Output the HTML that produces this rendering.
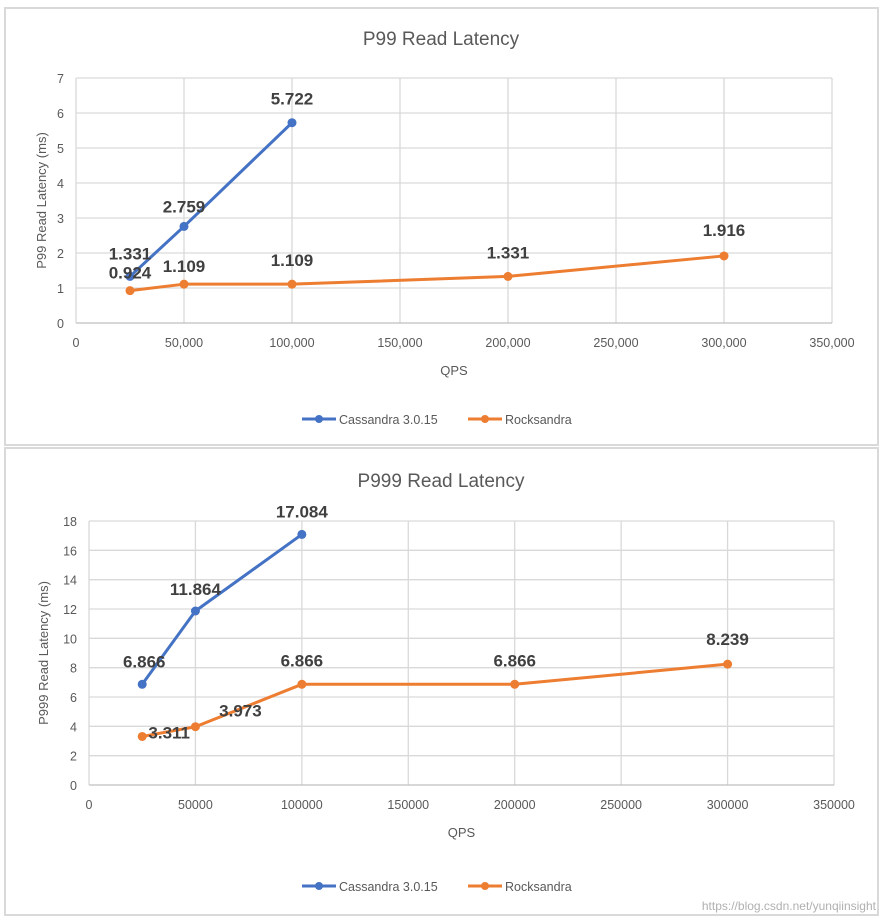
<!DOCTYPE html>
<html><head><meta charset="utf-8"><style>
body{margin:0;background:#fff;width:883px;height:923px;overflow:hidden;font-family:"Liberation Sans",sans-serif}
svg{position:absolute;left:0;top:0}
</style></head><body>
<svg id="s" width="883" height="923"></svg>
<script>
const qps1Cass=[25000,50000,100000];
const p99Cass=[1.331,2.759,5.722];
const qpsRocks=[25000,50000,100000,200000,300000];
const p99Rocks=[0.924,1.109,1.109,1.331,1.916];
const p999Cass=[6.866,11.864,17.084];
const p999Rocks=[3.311,3.973,6.866,6.866,8.239];
const xTicks1=["0","50,000","100,000","150,000","200,000","250,000","300,000","350,000"];
const xTicks2=["0","50000","100000","150000","200000","250000","300000","350000"];
const yTicks1=[0,1,2,3,4,5,6,7];
const yTicks2=[0,2,4,6,8,10,12,14,16,18];
const NS="http://www.w3.org/2000/svg",svg=document.getElementById('s');
function el(t,a,txt,p){const e=document.createElementNS(NS,t);for(const k in a)e.setAttribute(k,a[k]);if(txt!=null)e.textContent=txt;(p||svg).appendChild(e);return e;}
function chart(o){
  const g=el('g',{});
  
  
  const r=el('rect',{x:o.px,y:o.py,width:o.pw,height:o.ph,fill:'#fff',stroke:'#d9d9d9','stroke-width':2},null,g);
  
  const X=v=>o.x0+(o.x1-o.x0)*v/350000, Y=v=>o.y0-(o.y0-o.y1)*v/o.ymax;
  o.xt.forEach((t,i)=>{const x=X(i*50000);
    if(i>0){const l=el('line',{x1:x,x2:x,y1:o.y1,y2:o.y0,stroke:'#d9d9d9','stroke-width':1.3},null,g);}
    const tx=el('text',{x:x,y:o.y0+24,'text-anchor':'middle','font-size':12.5,fill:'#595959'},t,g);});
  o.yt.forEach(v=>{const y=Y(v);
    const l=el('line',{x1:o.x0,x2:o.x1,y1:y,y2:y,stroke:v==0?'#bfbfbf':'#d9d9d9','stroke-width':1.3},null,g);
    const tx=el('text',{x:o.x0-12,y:y+5,'text-anchor':'end','font-size':12.5,fill:'#595959'},String(v),g);});
  const ax=el('line',{x1:o.x0,x2:o.x0,y1:o.y1,y2:o.y0,stroke:'#d9d9d9','stroke-width':1.3},null,g);
  let t=el('text',{x:441,y:o.titleY,'text-anchor':'middle','font-size':19,fill:'#595959'},o.title,g);
  t=el('text',{x:(o.x0+o.x1)/2,y:o.y0+52,'text-anchor':'middle','font-size':13,fill:'#595959'},'QPS',g);
  const cy=(o.y0+o.y1)/2;
  t=el('text',{x:o.ytx,y:cy,'text-anchor':'middle','font-size':13,fill:'#595959',transform:`rotate(-90 ${o.ytx} ${cy})`},o.ytitle,g);
  const series=[[qps1Cass,o.cass,'#4472c4','cassandra'],[qpsRocks,o.rocks,'#ed7d31','rocksandra']];
  series.forEach(([xs,ys,c,n],si)=>{
    const pl=el('polyline',{points:xs.map((x,i)=>X(x)+','+Y(ys[i])).join(' '),fill:'none',stroke:c,'stroke-width':3,'stroke-linejoin':'round'},null,g);
    
    xs.forEach((x,i)=>{const p=el('circle',{cx:X(x),cy:Y(ys[i]),r:4.5,fill:c},null,g);
      
      const off=o.lab[si][i]||[0,-14];
      const lb=el('text',{x:X(x)+off[0],y:Y(ys[i])+off[1],'text-anchor':'middle','font-size':17,'font-weight':'bold',fill:'#404040'},ys[i].toFixed(3),g);
      });
  });
  const ly=o.legY;
  [[302,'Cassandra 3.0.15','#4472c4'],[468,'Rocksandra','#ed7d31']].forEach(([lx,name,c])=>{
    const lg=el('g',{},null,g);
    el('line',{x1:lx,x2:lx+34,y1:ly,y2:ly,stroke:c,'stroke-width':3},null,lg);
    el('circle',{cx:lx+17,cy:ly,r:4,fill:c},null,lg);
    el('text',{x:lx+37,y:ly+5,'font-size':12.5,fill:'#595959'},name,lg);
  });
}
chart({name:'p99-chart',px:5,py:8,pw:873,ph:437,x0:76,x1:832,y0:323,y1:78,ymax:7,xt:xTicks1,yt:yTicks1,title:'P99 Read Latency',titleY:45,ytitle:'P99 Read Latency (ms)',ytx:46,cass:p99Cass,rocks:p99Rocks,legY:419,
  lab:[[[0,-17],[0,-14],[0,-18]],[[0,-12],[0,-12],[0,-18],[0,-18],[0,-20]]]});
chart({name:'p999-chart',px:5,py:448,pw:873,ph:467,x0:89,x1:834,y0:785,y1:521,ymax:18,xt:xTicks2,yt:yTicks2,title:'P999 Read Latency',titleY:487,ytitle:'P999 Read Latency (ms)',ytx:48,cass:p999Cass,rocks:p999Rocks,legY:886,
  lab:[[[2,-17],[0,-16],[0,-17]],[[27,2],[45,-10],[0,-18],[0,-18],[0,-19]]]});
const w=el('text',{x:876,y:910,'text-anchor':'end','font-size':12,fill:'#b0b0b0'},'https://blog.csdn.net/yunqiinsight');


</script>
</body></html>
